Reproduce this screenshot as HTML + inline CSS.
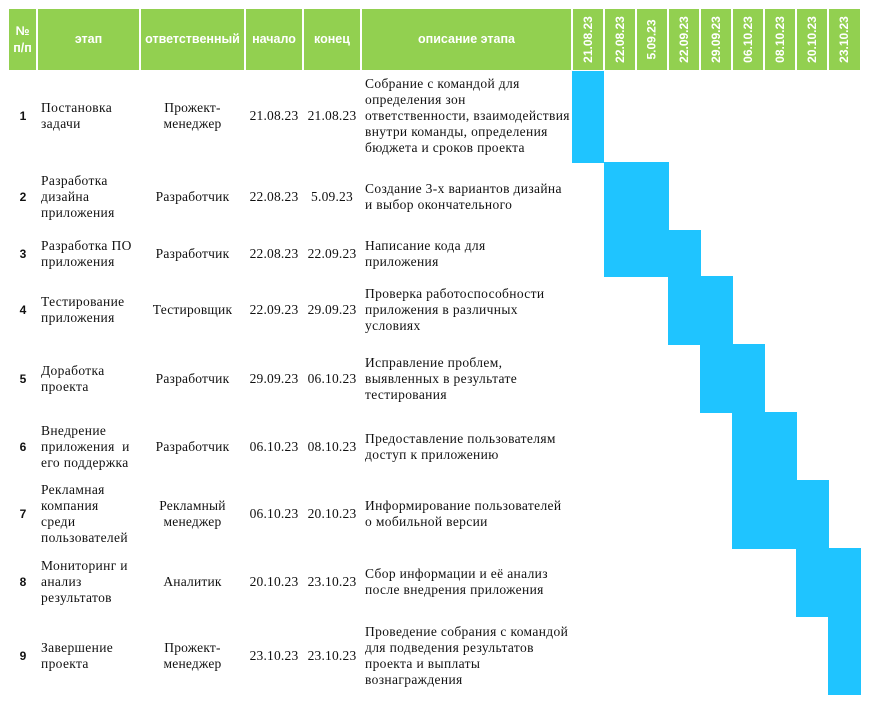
<!DOCTYPE html>
<html><head><meta charset="utf-8"><style>
body{margin:0;width:873px;height:706px;background:#fff;position:relative;overflow:hidden;font-family:"Liberation Serif",serif;font-size:13.5px;letter-spacing:0.35px;color:#111}
.h{position:absolute;top:9px;height:61px;background:#92d050;color:#fff;font-family:"Liberation Sans","DejaVu Sans",sans-serif;font-weight:bold;font-size:12.5px;letter-spacing:0;display:flex;align-items:center;justify-content:center;text-align:center;line-height:17px;box-sizing:border-box}
.d span{transform:rotate(-90deg);display:block;white-space:nowrap;font-size:12px}
.b{position:absolute;background:#1fc4ff}
.c{position:absolute;display:flex;align-items:center;line-height:16px;white-space:nowrap}
.n{font-family:"Liberation Sans",sans-serif;font-weight:bold;font-size:12px;letter-spacing:0;justify-content:center}
.m{justify-content:center;text-align:center;letter-spacing:0.2px}
</style></head><body>
<div class="h" style="left:9px;width:27px">№<br>п/п</div>
<div class="h" style="left:38px;width:101px">этап</div>
<div class="h" style="left:141px;width:103px">ответственный</div>
<div class="h" style="left:246px;width:56px">начало</div>
<div class="h" style="left:304px;width:56px">конец</div>
<div class="h" style="left:362px;width:209px">описание этапа</div>
<div class="h d" style="left:573px;width:30px"><span>21.08.23</span></div>
<div class="h d" style="left:605px;width:30px"><span>22.08.23</span></div>
<div class="h d" style="left:637px;width:30px"><span>5.09.23</span></div>
<div class="h d" style="left:669px;width:30px"><span>22.09.23</span></div>
<div class="h d" style="left:701px;width:30px"><span>29.09.23</span></div>
<div class="h d" style="left:733px;width:30px"><span>06.10.23</span></div>
<div class="h d" style="left:765px;width:30px"><span>08.10.23</span></div>
<div class="h d" style="left:797px;width:30px"><span>20.10.23</span></div>
<div class="h d" style="left:829px;width:31px"><span>23.10.23</span></div>

<div class="b" style="left:572px;top:71px;width:32px;height:92px"></div>
<div class="b" style="left:604px;top:162px;width:65px;height:115px"></div>
<div class="b" style="left:669px;top:230px;width:32px;height:47px"></div>
<div class="b" style="left:668px;top:276px;width:65px;height:69px"></div>
<div class="b" style="left:700px;top:344px;width:65px;height:69px"></div>
<div class="b" style="left:732px;top:412px;width:65px;height:137px"></div>
<div class="b" style="left:797px;top:480px;width:32px;height:69px"></div>
<div class="b" style="left:796px;top:548px;width:65px;height:69px"></div>
<div class="b" style="left:828px;top:617px;width:33px;height:78px"></div>

<div class="c n" style="left:9px;width:28px;top:70px;height:92px">1</div>
<div class="c" style="left:41px;top:70px;height:92px">Постановка<br>задачи</div>
<div class="c m" style="left:140px;width:105px;top:70px;height:92px">Прожект-<br>менеджер</div>
<div class="c m" style="left:245px;width:58px;top:70px;height:92px">21.08.23</div>
<div class="c m" style="left:303px;width:58px;top:70px;height:92px">21.08.23</div>
<div class="c" style="left:365px;top:70px;height:92px">Собрание с командой для<br>определения зон<br>ответственности, взаимодействия<br>внутри команды, определения<br>бюджета и сроков проекта</div>

<div class="c n" style="left:9px;width:28px;top:162px;height:70px">2</div>
<div class="c" style="left:41px;top:162px;height:70px">Разработка<br>дизайна<br>приложения</div>
<div class="c m" style="left:140px;width:105px;top:162px;height:70px">Разработчик</div>
<div class="c m" style="left:245px;width:58px;top:162px;height:70px">22.08.23</div>
<div class="c m" style="left:303px;width:58px;top:162px;height:70px">5.09.23</div>
<div class="c" style="left:365px;top:162px;height:70px">Создание 3-х вариантов дизайна<br>и выбор окончательного</div>

<div class="c n" style="left:9px;width:28px;top:232px;height:44px">3</div>
<div class="c" style="left:41px;top:232px;height:44px">Разработка ПО<br>приложения</div>
<div class="c m" style="left:140px;width:105px;top:232px;height:44px">Разработчик</div>
<div class="c m" style="left:245px;width:58px;top:232px;height:44px">22.08.23</div>
<div class="c m" style="left:303px;width:58px;top:232px;height:44px">22.09.23</div>
<div class="c" style="left:365px;top:232px;height:44px">Написание кода для<br>приложения</div>

<div class="c n" style="left:9px;width:28px;top:276px;height:68px">4</div>
<div class="c" style="left:41px;top:276px;height:68px">Тестирование<br>приложения</div>
<div class="c m" style="left:140px;width:105px;top:276px;height:68px">Тестировщик</div>
<div class="c m" style="left:245px;width:58px;top:276px;height:68px">22.09.23</div>
<div class="c m" style="left:303px;width:58px;top:276px;height:68px">29.09.23</div>
<div class="c" style="left:365px;top:276px;height:68px">Проверка работоспособности<br>приложения в различных<br>условиях</div>

<div class="c n" style="left:9px;width:28px;top:344px;height:70px">5</div>
<div class="c" style="left:41px;top:344px;height:70px">Доработка<br>проекта</div>
<div class="c m" style="left:140px;width:105px;top:344px;height:70px">Разработчик</div>
<div class="c m" style="left:245px;width:58px;top:344px;height:70px">29.09.23</div>
<div class="c m" style="left:303px;width:58px;top:344px;height:70px">06.10.23</div>
<div class="c" style="left:365px;top:344px;height:70px">Исправление проблем,<br>выявленных в результате<br>тестирования</div>

<div class="c n" style="left:9px;width:28px;top:412px;height:70px">6</div>
<div class="c" style="left:41px;top:412px;height:70px">Внедрение<br>приложения&nbsp; и<br>его поддержка</div>
<div class="c m" style="left:140px;width:105px;top:412px;height:70px">Разработчик</div>
<div class="c m" style="left:245px;width:58px;top:412px;height:70px">06.10.23</div>
<div class="c m" style="left:303px;width:58px;top:412px;height:70px">08.10.23</div>
<div class="c" style="left:365px;top:412px;height:70px">Предоставление пользователям<br>доступ к приложению</div>

<div class="c n" style="left:9px;width:28px;top:480px;height:68px">7</div>
<div class="c" style="left:41px;top:480px;height:68px">Рекламная<br>компания<br>среди<br>пользователей</div>
<div class="c m" style="left:140px;width:105px;top:480px;height:68px">Рекламный<br>менеджер</div>
<div class="c m" style="left:245px;width:58px;top:480px;height:68px">06.10.23</div>
<div class="c m" style="left:303px;width:58px;top:480px;height:68px">20.10.23</div>
<div class="c" style="left:365px;top:480px;height:68px">Информирование пользователей<br>о мобильной версии</div>

<div class="c n" style="left:9px;width:28px;top:548px;height:68px">8</div>
<div class="c" style="left:41px;top:548px;height:68px">Мониторинг и<br>анализ<br>результатов</div>
<div class="c m" style="left:140px;width:105px;top:548px;height:68px">Аналитик</div>
<div class="c m" style="left:245px;width:58px;top:548px;height:68px">20.10.23</div>
<div class="c m" style="left:303px;width:58px;top:548px;height:68px">23.10.23</div>
<div class="c" style="left:365px;top:548px;height:68px">Сбор информации и её анализ<br>после внедрения приложения</div>

<div class="c n" style="left:9px;width:28px;top:616px;height:80px">9</div>
<div class="c" style="left:41px;top:616px;height:80px">Завершение<br>проекта</div>
<div class="c m" style="left:140px;width:105px;top:616px;height:80px">Прожект-<br>менеджер</div>
<div class="c m" style="left:245px;width:58px;top:616px;height:80px">23.10.23</div>
<div class="c m" style="left:303px;width:58px;top:616px;height:80px">23.10.23</div>
<div class="c" style="left:365px;top:616px;height:80px">Проведение собрания с командой<br>для подведения результатов<br>проекта и выплаты<br>вознаграждения</div>
</body></html>
